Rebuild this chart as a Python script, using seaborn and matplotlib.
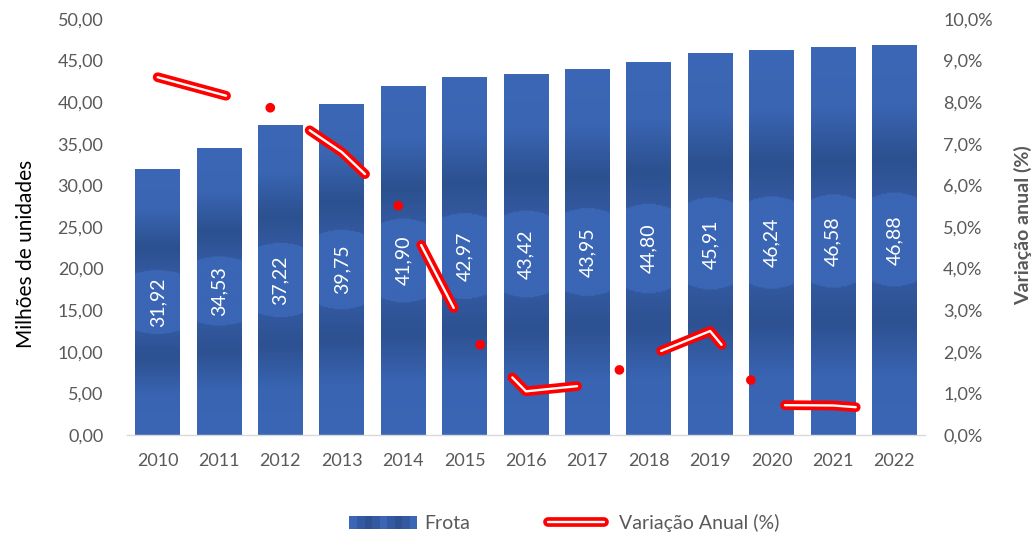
import numpy as np
import pandas as pd
import matplotlib
matplotlib.use('Agg')
import matplotlib.pyplot as plt
import seaborn as sns
from matplotlib.colors import LinearSegmentedColormap, to_rgb
from matplotlib.lines import Line2D
from matplotlib.patches import Patch
from matplotlib.legend_handler import HandlerTuple, HandlerLine2D
from matplotlib.ticker import FixedLocator, FuncFormatter

# ---------------- data ----------------
years = ['2010', '2011', '2012', '2013', '2014', '2015', '2016',
         '2017', '2018', '2019', '2020', '2021', '2022']
frota = [31.92, 34.53, 37.22, 39.75, 41.90, 42.97, 43.42,
         43.95, 44.80, 45.91, 46.24, 46.58, 46.88]
variacao = [8.6, 8.2, 7.8, 6.8, 5.4, 2.55, 1.05, 1.2, 1.9, 2.5, 0.72, 0.71, 0.6]
left_ticks = [0, 5, 10, 15, 20, 25, 30, 35, 40, 45, 50]
right_ticks = [0, 1, 2, 3, 4, 5, 6, 7, 8, 9, 10]
series_names = ['Frota', 'Variação Anual (%)']

# ---------------- style ----------------
sns.set_theme(style='white')
plt.rcParams['font.family'] = ['Lato', 'DejaVu Sans']
plt.rcParams['lines.scale_dashes'] = False
GREY = '#595959'
LIGHT, MID, DARK = '#3A66B5', '#3459A0', '#2D5191'
RED_LW, WHITE_LW = 7.0, 1.7

fig = plt.figure(figsize=(10.34, 5.36), dpi=100)
ax = fig.add_axes([0.1228, 0.1884, 0.7718, 0.7762])

df = pd.DataFrame({'Ano': years, 'Frota': frota})
sns.barplot(data=df, x='Ano', y='Frota', color='#3864B2', saturation=1,
            width=0.73, ax=ax, zorder=2)

# textured (gradient + ellipse) fill, clipped to each bar
stops = [(0.0, '#3B67B6'), (0.15, '#3A65B3'), (0.29, '#2C5190'), (0.40, '#3459A0'),
         (0.50, '#3763AE'), (0.60, '#3359A0'), (0.71, '#2D5191'), (0.85, '#3964B2'),
         (1.0, '#3A66B5')]
cmap = LinearSegmentedColormap.from_list('bar_grad', stops)
nr, nc = 300, 60
vv = np.linspace(0, 1, nr)[:, None]
uu = (np.arange(nc) + 0.5) / nc
img = cmap(np.repeat(vv, nc, axis=1))[..., :3]
inside = ((uu[None, :] - 0.5) / 1.1) ** 2 + ((vv - 0.5) / 0.12) ** 2 < 1
img[inside] = to_rgb(LIGHT)
for p in list(ax.patches):
    x0, w, h = p.get_x(), p.get_width(), p.get_height()
    im = ax.imshow(img, extent=[x0, x0 + w, 0, h], origin='upper', aspect='auto',
                   zorder=2.05, interpolation='bilinear')
    im.set_clip_path(p)

ax.set_xlim(-0.5, len(years) - 0.5)
ax.set_ylim(0, 50)

# data labels
for i, v in enumerate(frota):
    ax.text(i, v / 2, f'{v:.2f}'.replace('.', ','), rotation=90, color='white',
            ha='center', va='center', fontsize=14, zorder=3)

ax.yaxis.set_major_locator(FixedLocator(left_ticks))
ax.yaxis.set_major_formatter(FuncFormatter(lambda v, p: f'{v:.2f}'.replace('.', ',')))
ax.tick_params(axis='y', length=0, pad=17, labelsize=13, labelcolor=GREY)
ax.tick_params(axis='x', length=0, pad=13, labelsize=13, labelcolor=GREY)
ax.set_xlabel('')
ax.set_ylabel('Milhões de unidades', fontsize=15, color='black', va='center')
ax.yaxis.set_label_coords(-0.1266, 0.435)
for s in ['top', 'right', 'left']:
    ax.spines[s].set_visible(False)
ax.spines['bottom'].set_color('#D9D9D9')
ax.spines['bottom'].set_linewidth(1)
ax.grid(False)

# ---------------- secondary axis ----------------
ax2 = ax.twinx()
pos = np.arange(len(years))
sns.lineplot(x=pos, y=variacao, ax=ax2, color='#FF0000', linewidth=RED_LW, legend=False, zorder=5)
sns.lineplot(x=pos, y=variacao, ax=ax2, color='white', linewidth=WHITE_LW, legend=False, zorder=6)
red_line, white_line = ax2.lines[-2], ax2.lines[-1]
red_line.set_dashes([51, 33, 0.01, 33])
white_line.set_dashes([51, 66.01])
for ln in (red_line, white_line):
    ln.set_dash_capstyle('round')
    ln.set_solid_capstyle('round')
    ln.set_dash_joinstyle('round')
    ln.set_solid_joinstyle('round')

ax2.set_ylim(0, 10)
ax2.yaxis.set_major_locator(FixedLocator(right_ticks))
ax2.yaxis.set_major_formatter(FuncFormatter(lambda v, p: f'{v:.1f}'.replace('.', ',') + '%'))
ax2.tick_params(axis='y', length=0, pad=13, labelsize=13, labelcolor=GREY)
ax2.set_ylabel('Variação anual (%)', fontsize=14, fontweight='bold', color=GREY, va='center')
ax2.yaxis.set_label_coords(1.1228, 0.505)
for s in ['top', 'right', 'left', 'bottom']:
    ax2.spines[s].set_visible(False)
ax2.grid(False)
ax.set_zorder(1)
ax2.set_zorder(2)
ax2.patch.set_visible(False)


# ---------------- legend ----------------
class HandlerShortLine(HandlerLine2D):
    """Line handle shortened so its round caps stay inside the handle box."""
    def create_artists(self, legend, orig_handle, xdescent, ydescent, width,
                       height, fontsize, trans):
        return super().create_artists(legend, orig_handle, xdescent - 3, ydescent,
                                      width - 9, height, fontsize, trans)


swatch_cols = [LIGHT, MID, DARK, MID, LIGHT, MID, DARK, MID, LIGHT]
h_bar = tuple(Patch(facecolor=c, edgecolor='none', linewidth=0) for c in swatch_cols)
ln_red = Line2D([], [], color='#FF0000', lw=RED_LW, solid_capstyle='round')
ln_white = Line2D([], [], color='white', lw=WHITE_LW, solid_capstyle='round')
h_line = (ln_red, ln_white)
fig.legend([h_bar, h_line], series_names, loc='center', bbox_to_anchor=(0.546, 0.024),
           ncol=2, frameon=False, fontsize=14, labelcolor=GREY,
           handlelength=3.5, handletextpad=0.36, columnspacing=3.8,
           handler_map={h_bar: HandlerTuple(ndivide=None, pad=0),
                        h_line: HandlerTuple(ndivide=1),
                        ln_red: HandlerShortLine(),
                        ln_white: HandlerShortLine()})

fig.savefig('out.png', dpi=100)
